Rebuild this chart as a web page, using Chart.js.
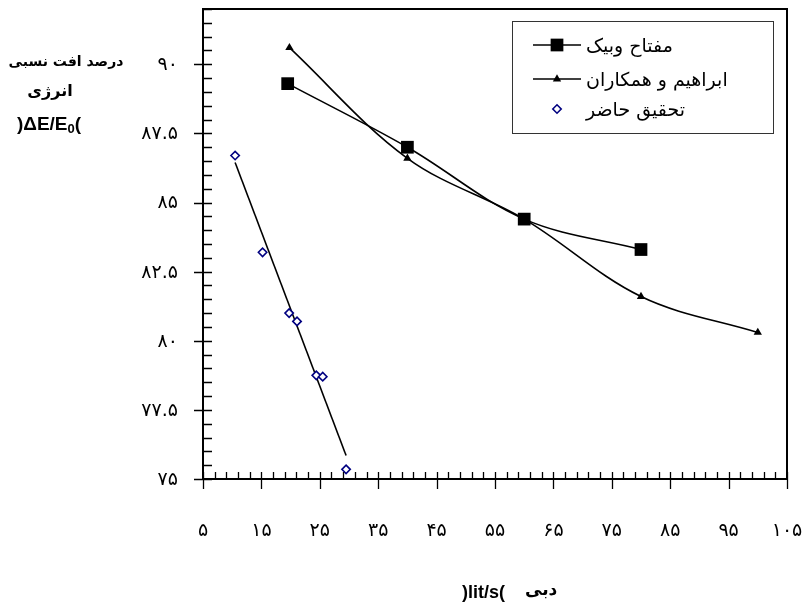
<!DOCTYPE html>
<html><head><meta charset="utf-8">
<script src="https://cdn.jsdelivr.net/npm/chart.js@4.4.0/dist/chart.umd.min.js"></script>
<style>html,body{margin:0;padding:0;background:#fff}#wrap{width:810px;height:606px}</style>
</head><body><div id="wrap"><canvas id="c" width="810" height="606"></canvas></div>
<script>
// ---- data ----
const seriesNames = ['مفتاح وبیک', 'ابراهیم و همکاران', 'تحقیق حاضر'];
const moftahX = [19.5, 40, 60, 80];
const moftahY = [89.3, 87.0, 84.4, 83.3];
const ebrahimX = [19.8, 40, 60, 80, 100];
const ebrahimY = [90.6, 86.6, 84.4, 81.6, 80.3];
const presentX = [10.5, 15.2, 19.75, 21.1, 24.4, 25.5, 29.5];
const presentY = [86.7, 83.2, 81.0, 80.7, 78.75, 78.7, 75.35];
const trendX = [10.5, 29.5];
const trendY = [86.45, 75.85];
const xTickValues = [5, 15, 25, 35, 45, 55, 65, 75, 85, 95, 105];
const xTickLabels = ['۵', '۱۵', '۲۵', '۳۵', '۴۵', '۵۵', '۶۵', '۷۵', '۸۵', '۹۵', '۱۰۵'];
const yTickValues = [75, 77.5, 80, 82.5, 85, 87.5, 90];
const yTickLabels = ['۷۵', '۷۷.۵', '۸۰', '۸۲.۵', '۸۵', '۸۷.۵', '۹۰'];
const xTitleLatin = ')lit/s(';
const xTitlePersian = 'دبی';
const yTitleLines = ['درصد افت نسبی', 'انرژی'];
const yTitleUnit = [')ΔE/E', '0', '('];

const pts = (xs, ys) => xs.map((x, i) => ({x: x, y: ys[i]}));

const decor = {
  id: 'decor',
  afterDraw(chart) {
    const ctx = chart.ctx, a = chart.chartArea;
    const xs = chart.scales.x, ys = chart.scales.y;
    ctx.save();
    ctx.strokeStyle = '#000';
    // plot frame
    ctx.lineWidth = 2;
    ctx.strokeRect(a.left, a.top, a.right - a.left, a.bottom - a.top);
    // x tick marks (minor every 2, major every 10)
    ctx.lineWidth = 1.3;
    ctx.beginPath();
    for (let i = 0; i <= 50; i++) {
      const v = xs.min + i * 2;
      const px = Math.round(xs.getPixelForValue(v)) + 0.5;
      const major = (i % 5 === 0);
      ctx.moveTo(px, a.bottom - 7);
      ctx.lineTo(px, major ? a.bottom + 10 : a.bottom);
    }
    // y tick marks (minor every 0.5, major every 2.5)
    for (let i = 0; i <= 34; i++) {
      const v = ys.min + i * 0.5;
      const py = Math.round(ys.getPixelForValue(v)) + 0.5;
      const major = (i % 5 === 0);
      ctx.moveTo(major ? a.left - 9 : a.left, py);
      ctx.lineTo(a.left + 9, py);
    }
    ctx.stroke();

    // tick labels
    ctx.fillStyle = '#000';
    ctx.font = '19px "DejaVu Sans"';
    ctx.textBaseline = 'middle';
    ctx.textAlign = 'center';
    xTickValues.forEach((v, i) => ctx.fillText(xTickLabels[i], xs.getPixelForValue(v), a.bottom + 52));
    ctx.textAlign = 'right';
    yTickValues.forEach((v, i) => ctx.fillText(yTickLabels[i], a.left - 25, ys.getPixelForValue(v) + 1));

    // legend
    const lx = 512, ly = 21, lw = 261, lh = 112;
    ctx.fillStyle = '#fff';
    ctx.fillRect(lx, ly, lw, lh);
    ctx.lineWidth = 1;
    ctx.strokeStyle = '#333';
    ctx.strokeRect(lx + 0.5, ly + 0.5, lw, lh);
    const rows = [45, 79, 109];
    chart.data.datasets.slice(0, 3).forEach((ds, i) => {
      const y = rows[i];
      if (ds.showLine) {
        ctx.strokeStyle = ds.borderColor;
        ctx.lineWidth = ds.borderWidth;
        ctx.beginPath();
        ctx.moveTo(lx + 21, y); ctx.lineTo(lx + 69, y);
        ctx.stroke();
      }
      ctx.fillStyle = ds.pointBackgroundColor;
      ctx.strokeStyle = ds.pointBorderColor;
      ctx.lineWidth = ds.pointBorderWidth;
      Chart.helpers.drawPoint(ctx, {pointStyle: ds.pointStyle, radius: ds.pointRadius, rotation: 0, borderWidth: ds.pointBorderWidth}, lx + 45, y);
      ctx.fillStyle = '#000';
      ctx.font = '19px "DejaVu Sans"';
      ctx.textAlign = 'left';
      ctx.textBaseline = 'middle';
      ctx.fillText(ds.label, lx + 74, y + 2);
    });

    // y title
    ctx.fillStyle = '#000';
    ctx.textAlign = 'center';
    ctx.textBaseline = 'middle';
    ctx.font = 'bold 14px "DejaVu Sans"';
    ctx.fillText(yTitleLines[0], 66, 62);
    ctx.font = 'bold 16px "DejaVu Sans"';
    ctx.fillText(yTitleLines[1], 50, 92);
    const big = 'bold 19px "Liberation Sans"', small = 'bold 13px "Liberation Sans"';
    ctx.font = big; const w0 = ctx.measureText(yTitleUnit[0]).width;
    ctx.font = small; const w1 = ctx.measureText(yTitleUnit[1]).width;
    ctx.font = big; const w2 = ctx.measureText(yTitleUnit[2]).width;
    let sx = 49 - (w0 + w1 + w2) / 2;
    ctx.textAlign = 'left';
    ctx.textBaseline = 'alphabetic';
    ctx.font = big; ctx.fillText(yTitleUnit[0], sx, 130); sx += w0;
    ctx.font = small; ctx.fillText(yTitleUnit[1], sx, 133); sx += w1;
    ctx.font = big; ctx.fillText(yTitleUnit[2], sx, 130);

    // x title
    const mx = (a.left + a.right) / 2;
    ctx.textBaseline = 'middle';
    ctx.font = 'bold 18px "Liberation Sans"';
    ctx.textAlign = 'right';
    ctx.fillText(xTitleLatin, mx + 10, 593);
    ctx.font = 'bold 17px "DejaVu Sans"';
    ctx.textAlign = 'left';
    ctx.fillText(xTitlePersian, mx + 30, 591);
    ctx.restore();
  }
};

new Chart(document.getElementById('c'), {
  type: 'scatter',
  data: {
    datasets: [
      {label: seriesNames[0], data: pts(moftahX, moftahY), showLine: true, borderColor: '#000', borderWidth: 1.6, tension: 0.35,
       pointStyle: 'rect', pointRadius: 9, pointBackgroundColor: '#000', pointBorderColor: '#000', pointBorderWidth: 0},
      {label: seriesNames[1], data: pts(ebrahimX, ebrahimY), showLine: true, borderColor: '#000', borderWidth: 1.6, tension: 0.35,
       pointStyle: 'triangle', pointRadius: 4.8, pointBackgroundColor: '#000', pointBorderColor: '#000', pointBorderWidth: 0},
      {label: seriesNames[2], data: pts(presentX, presentY), showLine: false,
       pointStyle: 'rectRot', pointRadius: 4.2, pointBackgroundColor: '#fff', pointBorderColor: '#000080', pointBorderWidth: 1.6},
      {label: 'trend', data: pts(trendX, trendY), showLine: true, borderColor: '#000', borderWidth: 1.6, tension: 0, pointRadius: 0}
    ]
  },
  options: {
    responsive: false,
    animation: false,
    events: [],
    layout: {padding: {left: 0, right: 23, top: 7, bottom: 0}},
    plugins: {legend: {display: false}, tooltip: {enabled: false}},
    scales: {
      x: {
        type: 'linear', min: 5, max: 105,
        grid: {display: false, drawTicks: false},
        border: {display: false},
        ticks: {display: false},
        afterFit: s => { s.height = 127; }
      },
      y: {
        type: 'linear', min: 75, max: 92,
        grid: {display: false, drawTicks: false},
        border: {display: false},
        ticks: {display: false},
        afterFit: s => { s.width = 203; }
      }
    }
  },
  plugins: [decor]
});
</script>
</body></html>
